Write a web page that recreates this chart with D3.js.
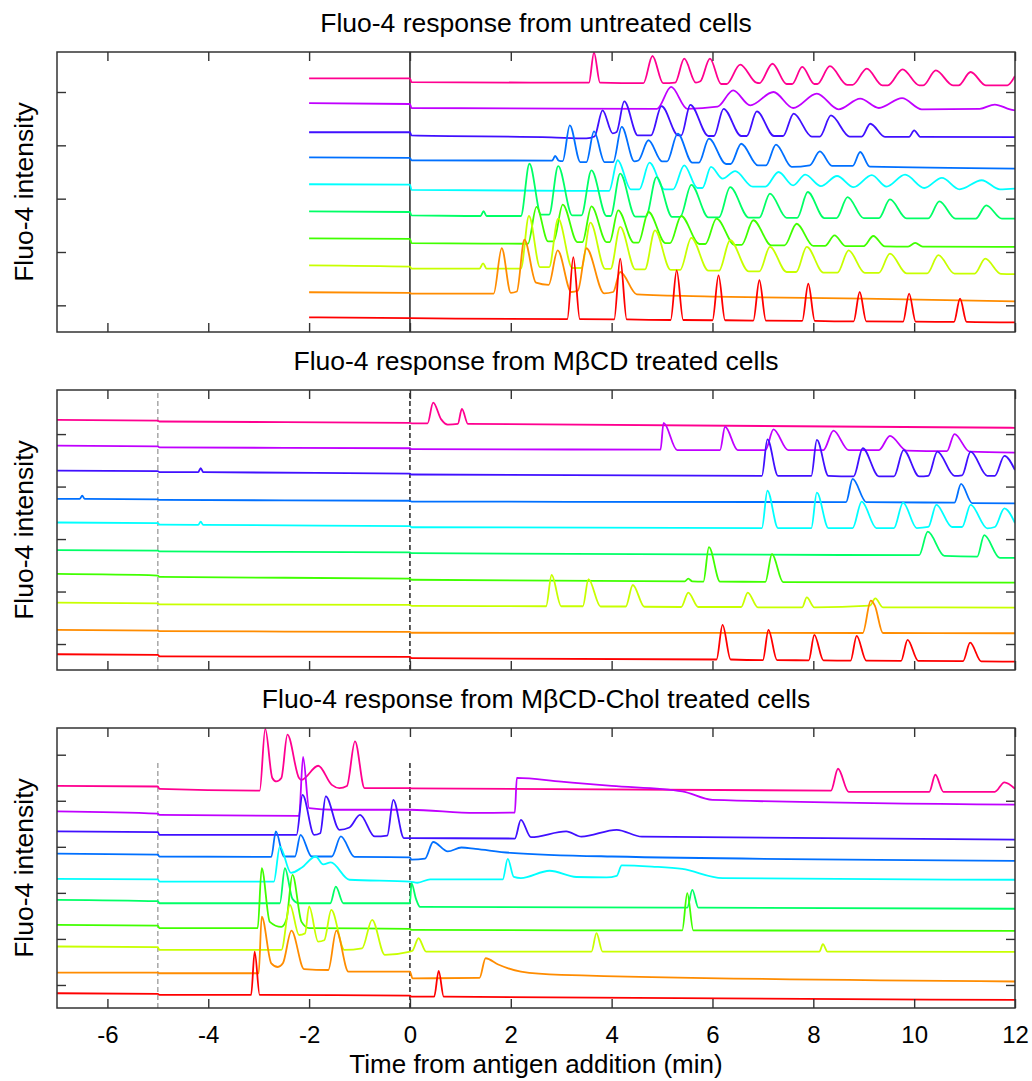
<!DOCTYPE html>
<html><head><meta charset="utf-8">
<script src="https://cdn.jsdelivr.net/npm/d3@7"></script>
<style>
body{margin:0;background:#fff}
text{font-family:"Liberation Sans",Arial,sans-serif;fill:#000}
</style>
</head><body>
<svg id="c" width="1032" height="1081"></svg>
<script>
// ---------------- data ----------------
const xTicks = [-6, -4, -2, 0, 2, 4, 6, 8, 10, 12];
const xTickLabels = ["-6", "-4", "-2", "0", "2", "4", "6", "8", "10", "12"];
const titles = [
  "Fluo-4 response from untreated cells",
  "Fluo-4 response from M\u03B2CD treated cells",
  "Fluo-4 response from M\u03B2CD-Chol treated cells"
];
const yLabel = "Fluo-4 intensity";
const xLabel = "Time from antigen addition (min)";
// trace colours, bottom trace first
const traceColors = ["#ff0000", "#ff8c00", "#c8ff00", "#40ff00", "#00ff66", "#00ffff", "#0070ff", "#4010ff", "#c000ff", "#ff0090"];
// y ticks (trace spacing = 1 unit)
const yTicks1 = [0.45, 2.45, 4.45, 6.45, 8.45];
const yTicks2 = [0.39, 2.39, 4.39, 6.39, 8.39];
const yTicks3 = [0.36, 2.36, 4.36, 6.36, 8.36, 10.36];

// ---- Panel 1: untreated, [time (min), intensity above own trace baseline] ----
const u_red = [[-2,0],[0,-0.03],[3.12,-0.07],[3.24,2.26],[3.37,-0.07],[4.05,-0.08],[4.17,2.2],[4.3,-0.08],[5.17,-0.1],[5.29,1.76],[5.42,-0.1],[6.0,-0.11],[6.12,1.57],[6.25,-0.11],[6.81,-0.12],[6.93,1.39],[7.06,-0.12],[7.78,-0.13],[7.9,1.26],[8.03,-0.13],[8.8,-0.15],[8.92,0.95],[9.05,-0.15],[9.78,-0.16],[9.9,0.89],[10.03,-0.16],[10.79,-0.17],[10.91,0.7],[11.04,-0.17],[12,-0.19]];
const u_orange = [[-2,-0.06],[0,-0.08],[0.03,-0.11],[1.66,-0.11],[1.82,1.59],[2.0,-0.08],[2.12,-0.03],[2.27,1.91],[2.5,0.3],[2.75,0.22],[2.93,1.51],[3.2,-0.05],[3.33,0.0],[3.5,1.59],[3.85,-0.1],[4.03,-0.05],[4.17,0.7],[4.5,-0.14],[6,-0.22],[9,-0.3],[12,-0.4]];
const u_yg = [[-2,-0.05],[0,-0.1],[0.03,-0.17],[1.38,-0.17],[1.45,0.02],[1.52,-0.17],[2.2,-0.17],[2.36,1.8],[2.58,-0.12],[2.76,-0.12],[2.94,1.7],[3.22,-0.15],[3.4,-0.15],[3.58,1.55],[3.87,-0.18],[3.98,-0.18],[4.17,1.39],[4.47,-0.2],[4.66,-0.2],[4.86,1.26],[5.17,-0.22],[5.36,-0.22],[5.58,0.98],[5.92,-0.25],[6.13,-0.25],[6.35,0.89],[6.72,-0.28],[6.93,-0.28],[7.14,0.64],[7.47,-0.3],[7.66,-0.3],[7.87,0.64],[8.2,-0.32],[8.48,-0.32],[8.7,0.51],[9.02,-0.33],[9.3,-0.33],[9.52,0.39],[9.85,-0.35],[10.26,-0.35],[10.48,0.33],[10.8,-0.36],[11.2,-0.36],[11.41,0.2],[11.72,-0.37],[12,-0.38]];
const u_green = [[-2,-0.04],[0,-0.06],[0.03,-0.22],[2.34,-0.24],[2.51,1.14],[2.74,-0.15],[2.85,-0.15],[3.03,1.23],[3.32,-0.18],[3.42,-0.18],[3.6,1.16],[3.9,-0.18],[3.96,-0.18],[4.13,1.01],[4.44,-0.2],[4.53,-0.2],[4.73,0.95],[5.07,-0.22],[5.16,-0.22],[5.38,0.8],[5.74,-0.25],[5.86,-0.25],[6.08,0.7],[6.44,-0.28],[6.58,-0.28],[6.81,0.64],[7.17,-0.3],[7.43,-0.3],[7.67,0.51],[8.0,-0.32],[8.23,-0.32],[8.42,0.07],[8.64,-0.33],[9.0,-0.33],[9.19,0.05],[9.42,-0.34],[9.88,-0.35],[10.02,-0.21],[10.17,-0.35],[12,-0.36]];
const u_spring = [[-2,-0.03],[0,-0.05],[0.03,-0.18],[1.4,-0.2],[1.46,-0.02],[1.52,-0.2],[2.2,-0.2],[2.37,1.76],[2.6,-0.15],[2.76,-0.15],[2.94,1.67],[3.22,-0.18],[3.4,-0.18],[3.6,1.51],[3.9,-0.2],[3.98,-0.2],[4.17,1.39],[4.47,-0.22],[4.68,-0.22],[4.89,1.26],[5.2,-0.23],[5.36,-0.23],[5.58,0.97],[5.92,-0.25],[6.13,-0.25],[6.35,0.88],[6.72,-0.26],[6.93,-0.26],[7.14,0.64],[7.47,-0.27],[7.68,-0.27],[7.89,0.7],[8.22,-0.28],[8.46,-0.28],[8.68,0.51],[9.0,-0.28],[9.3,-0.28],[9.52,0.42],[9.85,-0.29],[10.28,-0.29],[10.5,0.35],[10.82,-0.3],[11.22,-0.3],[11.43,0.2],[11.74,-0.3],[12,-0.3]];
const u_cyan = [[-2,-0.01],[0,-0.02],[0.03,-0.22],[3.95,-0.26],[4.12,0.89],[4.38,-0.2],[4.55,-0.2],[4.75,0.8],[5.05,-0.2],[5.22,-0.2],[5.44,0.7],[5.7,-0.15],[5.8,-0.15],[5.97,0.64],[6.2,0.2],[6.45,0.48],[6.8,-0.1],[7.05,-0.1],[7.31,0.45],[7.6,-0.05],[7.84,0.35],[8.15,-0.08],[8.47,0.3],[8.8,-0.12],[9.16,0.33],[9.45,-0.1],[9.82,0.35],[10.2,-0.15],[10.55,0.23],[10.9,-0.2],[11.34,0.14],[11.7,-0.2],[12,-0.17]];
const u_azure = [[-2,0],[0,-0.02],[0.03,-0.11],[2.82,-0.12],[2.88,0.05],[2.95,-0.12],[3.03,-0.14],[3.17,1.2],[3.38,-0.18],[3.5,-0.18],[3.65,0.97],[3.86,-0.18],[4.03,-0.18],[4.2,1.14],[4.45,-0.15],[4.53,-0.12],[4.73,0.64],[5.0,-0.15],[5.1,-0.15],[5.31,0.89],[5.6,-0.2],[5.73,-0.2],[5.93,0.7],[6.27,-0.25],[6.36,-0.25],[6.57,0.51],[6.9,-0.3],[7.06,-0.3],[7.26,0.48],[7.57,-0.36],[7.93,-0.3],[8.13,0.22],[8.37,-0.32],[8.78,-0.32],[8.93,0.2],[9.12,-0.35],[12,-0.42]];
const u_blue = [[-2,-0.06],[0,-0.06],[0.03,-0.18],[2.8,-0.25],[3.5,-0.29],[3.66,-0.22],[3.82,0.76],[4.02,-0.1],[4.1,-0.05],[4.25,1.1],[4.52,-0.18],[4.78,-0.18],[4.99,0.92],[5.32,-0.18],[5.38,-0.18],[5.56,0.97],[5.92,-0.2],[6.03,-0.2],[6.22,0.82],[6.57,-0.2],[6.68,-0.2],[6.88,0.72],[7.22,-0.2],[7.4,-0.2],[7.61,0.64],[7.97,-0.22],[8.13,-0.22],[8.35,0.57],[8.72,-0.22],[8.96,-0.22],[9.13,0.26],[9.42,-0.23],[9.9,-0.23],[10.0,0.01],[10.12,-0.23],[12,-0.24]];
const u_violet = [[-2,0.03],[0,0.0],[0.03,-0.15],[4.9,-0.18],[5.18,0.64],[5.5,-0.18],[6.1,-0.1],[6.41,0.51],[6.75,-0.05],[7.21,0.45],[7.6,-0.15],[8.07,0.39],[8.5,-0.2],[8.93,0.2],[9.3,-0.15],[9.76,0.22],[10.15,-0.2],[11.3,-0.18],[11.6,-0.02],[11.9,-0.2],[12,-0.24]];
const u_magenta = [[-2,-0.04],[0,-0.04],[0.03,-0.18],[3.55,-0.2],[3.65,0.93],[3.77,-0.2],[4.63,-0.22],[4.81,0.8],[5.02,-0.22],[5.26,-0.2],[5.44,0.7],[5.67,-0.2],[5.76,-0.15],[5.95,0.7],[6.17,-0.25],[6.28,-0.25],[6.55,0.48],[6.87,-0.2],[6.93,-0.22],[7.19,0.51],[7.47,-0.25],[7.58,-0.25],[7.78,0.39],[8.02,-0.25],[8.08,-0.25],[8.33,0.42],[8.67,-0.28],[8.78,-0.28],[9.06,0.33],[9.37,-0.3],[9.48,-0.3],[9.77,0.3],[10.1,-0.3],[10.18,-0.3],[10.43,0.26],[10.77,-0.3],[10.88,-0.3],[11.12,0.2],[11.42,-0.3],[11.85,-0.3],[12,0.05]];

// ---- Panel 2: MβCD treated ----
const m_red = [[-7,0],[-5,-0.02],[-4.97,-0.08],[0,-0.1],[0.03,-0.15],[6.08,-0.2],[6.2,1.12],[6.36,-0.2],[7.0,-0.22],[7.11,0.93],[7.28,-0.22],[7.91,-0.23],[8.02,0.74],[8.2,-0.23],[8.74,-0.24],[8.86,0.7],[9.05,-0.24],[9.74,-0.25],[9.87,0.55],[10.08,-0.25],[10.97,-0.26],[11.11,0.44],[11.33,-0.27],[12,-0.28]];
const m_orange = [[-7,-0.07],[-5,-0.1],[-4.97,-0.12],[0,-0.15],[0.03,-0.18],[8.98,-0.19],[9.14,1.04],[9.22,0.85],[9.38,-0.19],[12,-0.2]];
const m_yg = [[-7,-0.03],[-5,-0.06],[-4.97,-0.1],[0,-0.12],[0.03,-0.16],[2.7,-0.17],[2.81,1.02],[3.0,-0.17],[3.43,-0.17],[3.54,0.86],[3.78,-0.18],[4.28,-0.18],[4.42,0.64],[4.65,-0.19],[5.38,-0.2],[5.52,0.35],[5.72,-0.2],[6.57,-0.2],[6.7,0.35],[6.9,-0.21],[7.78,-0.21],[7.87,0.17],[8.02,-0.21],[9.12,-0.15],[9.23,0.13],[9.38,-0.21],[12,-0.22]];
const m_green = [[-7,0.06],[-5,0.0],[-4.97,-0.05],[0,-0.12],[0.03,-0.16],[5.45,-0.22],[5.52,-0.12],[5.6,-0.22],[5.82,-0.23],[5.93,1.08],[6.15,-0.23],[7.05,-0.24],[7.18,0.82],[7.4,-0.25],[12,-0.27]];
const m_spring = [[-7,-0.03],[-5,-0.05],[-4.97,-0.08],[0,-0.12],[0.03,-0.15],[10.1,-0.22],[10.27,0.67],[10.6,-0.25],[11.25,-0.28],[11.39,0.54],[11.7,-0.33],[12,-0.33]];
const m_cyan = [[-7,0.02],[-5,0.0],[-4.97,-0.06],[-4.2,-0.07],[-4.15,0.05],[-4.1,-0.07],[0,-0.12],[0.03,-0.16],[6.98,-0.19],[7.09,1.23],[7.3,-0.19],[7.96,-0.19],[8.07,1.16],[8.3,-0.19],[8.78,-0.19],[8.96,0.82],[9.25,-0.19],[9.6,-0.19],[9.78,0.78],[10.05,-0.19],[10.28,-0.15],[10.44,0.69],[10.75,-0.15],[10.95,-0.15],[11.12,0.69],[11.45,-0.2],[11.6,-0.15],[11.79,0.56],[12,0.0]];
const m_azure = [[-7,-0.08],[-6.55,-0.08],[-6.5,0.04],[-6.45,-0.08],[-5,-0.1],[-4.97,-0.12],[0,-0.15],[0.03,-0.18],[8.65,-0.2],[8.78,0.68],[9.05,-0.2],[10.8,-0.22],[10.93,0.49],[11.15,-0.24],[12,-0.25]];
const m_blue = [[-7,0],[-5,-0.02],[-4.97,-0.06],[-4.2,-0.06],[-4.15,0.09],[-4.1,-0.06],[0,-0.12],[0.03,-0.15],[6.98,-0.2],[7.09,1.19],[7.3,-0.2],[7.96,-0.2],[8.07,1.17],[8.3,-0.2],[8.8,-0.22],[8.98,0.85],[9.3,-0.22],[9.6,-0.22],[9.79,0.78],[10.1,-0.22],[10.28,-0.2],[10.46,0.72],[10.8,-0.2],[10.95,-0.18],[11.12,0.72],[11.45,-0.2],[11.6,-0.2],[11.79,0.56],[12,0.02]];
const m_violet = [[-7,-0.05],[-5,-0.08],[-4.97,-0.12],[0,-0.15],[0.03,-0.18],[4.97,-0.2],[5.03,0.82],[5.3,-0.22],[6.15,-0.22],[6.25,0.67],[6.5,-0.22],[7.05,-0.22],[7.21,0.57],[7.5,-0.22],[8.2,-0.22],[8.4,0.52],[8.7,-0.22],[9.3,-0.22],[9.52,0.32],[9.85,-0.24],[10.65,-0.26],[10.8,0.39],[11.1,-0.28],[12,-0.32]];
const m_magenta = [[-7,-0.07],[-5,-0.1],[-4.97,-0.13],[0,-0.18],[0.03,-0.2],[0.35,-0.2],[0.46,0.59],[0.62,-0.05],[0.75,-0.25],[0.95,-0.22],[1.03,0.35],[1.15,-0.22],[12,-0.37]];

// ---- Panel 3: MβCD-Chol treated ----
const c_red = [[-7,0],[-5,-0.03],[-4.97,-0.07],[-3.15,-0.07],[-3.08,1.81],[-2.98,-0.07],[0,-0.1],[0.03,-0.15],[0.48,-0.15],[0.57,0.97],[0.67,-0.15],[12,-0.29]];
const c_orange = [[-7,-0.1],[-5,-0.1],[-4.97,-0.13],[-3.0,-0.13],[-2.94,2.33],[-2.75,0.3],[-2.62,0.14],[-2.52,0.3],[-2.35,1.72],[-2.1,0.05],[-1.62,0.01],[-1.46,1.72],[-1.22,-0.06],[0,-0.06],[0.05,-0.35],[1.38,-0.33],[1.5,0.52],[1.75,0.25],[2.2,-0.06],[3,-0.2],[12,-0.49]];
const c_yg = [[-7,0.03],[-5,0.0],[-4.97,-0.12],[-2.55,-0.12],[-2.38,1.84],[-2.2,0.53],[-2.08,0.6],[-2.0,1.77],[-1.82,0.24],[-1.7,0.3],[-1.56,1.62],[-1.3,-0.12],[-0.95,-0.05],[-0.75,1.19],[-0.5,-0.33],[-0.02,-0.2],[0.05,-0.15],[0.17,0.39],[0.32,-0.19],[3.6,-0.19],[3.7,0.61],[3.82,-0.19],[8.12,-0.19],[8.19,0.13],[8.28,-0.19],[12,-0.2]];
const c_green = [[-7,-0.03],[-5,-0.06],[-4.97,-0.17],[-3.02,-0.17],[-2.94,2.43],[-2.78,0.1],[-2.55,-0.12],[-2.45,0.2],[-2.33,2.14],[-2.15,0.1],[-2.0,-0.17],[0,-0.2],[0.03,-0.25],[5.4,-0.27],[5.5,1.35],[5.62,-0.27],[12,-0.29]];
const c_spring = [[-7,0.06],[-5,0.0],[-4.97,-0.09],[-2.58,-0.09],[-2.48,1.43],[-2.33,0.1],[-2.2,-0.09],[-1.58,-0.09],[-1.47,0.63],[-1.32,-0.09],[0,-0.09],[0.03,0.78],[0.12,0.1],[0.2,-0.25],[5.5,-0.28],[5.6,0.49],[5.72,-0.28],[12,-0.33]];
const c_cyan = [[-7,-0.03],[-5,-0.05],[-4.97,-0.15],[-2.7,-0.15],[-2.58,1.37],[-2.36,0.23],[-2.15,0.45],[-1.87,0.94],[-1.72,0.6],[-1.57,0.68],[-1.2,-0.07],[0,-0.15],[0.15,-0.2],[0.4,-0.05],[1.84,-0.05],[1.94,0.84],[2.06,0.05],[2.2,0.0],[2.77,0.32],[3.3,0.05],[3.9,0.03],[4.1,0.1],[4.2,0.55],[4.8,0.5],[5.4,0.4],[6.2,0.0],[12,-0.07]];
const c_azure = [[-7,0.06],[-5,0.02],[-4.97,-0.06],[-2.75,-0.08],[-2.66,1.03],[-2.5,-0.06],[-2.28,-0.06],[-2.17,0.88],[-1.95,-0.06],[-1.55,-0.06],[-1.37,0.81],[-1.1,-0.08],[0,-0.1],[0.03,-0.2],[0.3,-0.15],[0.46,0.57],[0.75,0.16],[1.02,0.33],[1.3,0.27],[2.0,0.1],[4.0,-0.06],[12,-0.25]];
const c_blue = [[-7,0.03],[-5,0.0],[-4.97,-0.12],[-2.25,-0.12],[-2.13,1.62],[-1.9,-0.12],[-1.78,-0.05],[-1.67,1.55],[-1.4,0.1],[-1.2,0.2],[-0.99,0.75],[-0.7,-0.19],[-0.45,-0.15],[-0.33,1.4],[-0.12,-0.26],[0,-0.26],[2.08,-0.28],[2.2,0.53],[2.4,-0.22],[3.1,0.03],[3.4,-0.2],[4.1,0.1],[4.6,-0.2],[12,-0.33]];
const c_violet = [[-7,-0.1],[-5,-0.2],[-4.97,-0.25],[-2.2,-0.3],[-2.12,2.26],[-2.0,0.04],[-1.5,-0.03],[0,-0.03],[1.3,-0.17],[2.08,-0.15],[2.12,1.35],[3.0,1.19],[4.0,1.01],[5.4,0.77],[6.0,0.4],[12,0.19]];
const c_magenta = [[-7,0.01],[-5,-0.02],[-4.97,-0.12],[-2.98,-0.2],[-2.87,2.48],[-2.73,0.35],[-2.65,0.2],[-2.55,0.35],[-2.43,2.23],[-2.2,0.35],[-2.15,0.27],[-1.82,0.88],[-1.55,0.05],[-1.4,-0.09],[-1.25,0.0],[-1.09,1.94],[-0.9,-0.09],[0,-0.09],[0.03,-0.1],[8.35,-0.2],[8.49,0.75],[8.7,-0.25],[10.3,-0.25],[10.42,0.49],[10.58,-0.25],[11.6,-0.25],[11.79,0.16],[12,-0.12]];

const untreated = [u_red, u_orange, u_yg, u_green, u_spring, u_cyan, u_azure, u_blue, u_violet, u_magenta];
const mbcd = [m_red, m_orange, m_yg, m_green, m_spring, m_cyan, m_azure, m_blue, m_violet, m_magenta];
const mbcdChol = [c_red, c_orange, c_yg, c_green, c_spring, c_cyan, c_azure, c_blue, c_violet, c_magenta];

// ---------------- drawing ----------------
const svg = d3.select("#c");
const x = d3.scaleLinear().domain([-7, 12]).range([57, 1015]);

const panels = [
  {title: titles[0], top: 52, bottom: 332, yDomain: [-0.55, 9.95], yTicks: yTicks1, traces: untreated,
   markers: [{t: 0, color: "#000", dash: null, yTop: null}]},
  {title: titles[1], top: 390, bottom: 670, yDomain: [-0.6, 10.07], yTicks: yTicks2, traces: mbcd,
   markers: [{t: -5, color: "#999", dash: "5,3", yTop: null}, {t: 0, color: "#000", dash: "5,3", yTop: null}]},
  {title: titles[2], top: 728, bottom: 1008, yDomain: [-0.64, 11.52], yTicks: yTicks3, traces: mbcdChol,
   markers: [{t: -5, color: "#999", dash: "5,3", yTop: 10.07}, {t: 0, color: "#000", dash: "5,3", yTop: 10.07}]}
];

panels.forEach((p, pi) => {
  const y = d3.scaleLinear().domain(p.yDomain).range([p.bottom, p.top]);
  const g = svg.append("g");
  const clipId = "clip" + pi;
  svg.append("clipPath").attr("id", clipId).append("rect")
    .attr("x", 57).attr("y", p.top).attr("width", 1015 - 57).attr("height", p.bottom - p.top);

  // title
  g.append("text").attr("x", (57 + 1015) / 2).attr("y", p.top - 20.5)
    .attr("text-anchor", "middle").style("font-size", "26.5px").text(p.title);
  // y label
  g.append("text").attr("transform", `translate(32.5,${(p.top + p.bottom) / 2}) rotate(-90)`)
    .attr("text-anchor", "middle").style("font-size", "26.5px").text(yLabel);

  // markers
  p.markers.forEach(m => {
    g.append("line").attr("x1", x(m.t)).attr("x2", x(m.t))
      .attr("y1", p.bottom).attr("y2", m.yTop === null ? p.top : y(m.yTop))
      .attr("stroke", m.color).attr("stroke-width", 1.3)
      .attr("stroke-dasharray", m.dash);
  });

  // traces (top trace drawn first)
  const tg = g.append("g").attr("clip-path", `url(#${clipId})`);
  for (let i = p.traces.length - 1; i >= 0; i--) {
    const line = d3.line().x(d => x(d[0])).y(d => y(d[1] + i)).curve(d3.curveMonotoneX);
    tg.append("path").datum(p.traces[i]).attr("d", line)
      .attr("fill", "none").attr("stroke", traceColors[i])
      .attr("stroke-width", 1.8).attr("stroke-linejoin", "round");
  }

  // axes (inward ticks, labels only on the bottom panel)
  const tickColor = "#333";
  const ax = (gen, tx, ty) => {
    const a = g.append("g").attr("transform", `translate(${tx},${ty})`).call(gen);
    a.select(".domain").remove();
    a.selectAll(".tick line").attr("stroke", tickColor).attr("stroke-width", 1.4);
    return a;
  };
  ax(d3.axisTop(x).tickValues(xTicks).tickSize(-9).tickFormat(""), 0, p.top);
  const bottomAxis = ax(d3.axisBottom(x).tickValues(xTicks).tickSize(-9)
    .tickFormat((d, k) => pi === 2 ? xTickLabels[k] : ""), 0, p.bottom);
  bottomAxis.selectAll(".tick text").attr("y", 35).attr("dy", 0)
    .style("font-size", "24px").style("font-family", "'Liberation Sans',Arial,sans-serif").attr("fill", "#000");
  ax(d3.axisLeft(y).tickValues(p.yTicks).tickSize(-9).tickFormat(""), 57, 0);
  ax(d3.axisRight(y).tickValues(p.yTicks).tickSize(-9).tickFormat(""), 1015, 0);

  // frame
  g.append("rect").attr("x", 57).attr("y", p.top).attr("width", 1015 - 57).attr("height", p.bottom - p.top)
    .attr("fill", "none").attr("stroke", tickColor).attr("stroke-width", 1.5);
});

svg.append("text").attr("x", 536).attr("y", 1073).attr("text-anchor", "middle")
  .style("font-size", "26px").text(xLabel);
</script>
</body></html>
